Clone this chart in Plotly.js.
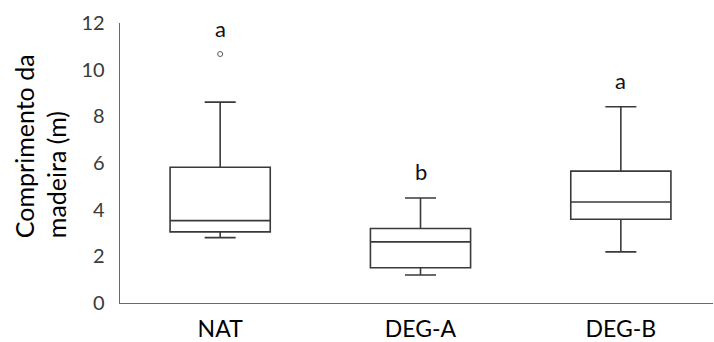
<!DOCTYPE html>
<html>
<head>
<meta charset="utf-8">
<script src="https://cdn.plot.ly/plotly-3.0.1.min.js"></script>
<style>
  html, body { margin: 0; padding: 0; background: #ffffff; }
  #chart { width: 714px; height: 342px; }
</style>
</head>
<body>
<div id="chart"></div>
<script>
// Wood length by site type: five-number summaries per group
const categories = ["NAT", "DEG-A", "DEG-B"];
const lowerFence = [2.80, 1.20, 2.19];
const q1 = [3.05, 1.51, 3.59];
const median = [3.53, 2.62, 4.33];
const q3 = [5.82, 3.19, 5.65];
const upperFence = [8.61, 4.50, 8.41];

// Points beyond the whiskers
const outlierCategory = ["NAT"];
const outlierValue = [10.67];

// Significance letters and the height they sit at
const letters = ["a", "b", "a"];
const letterHeight = [11.78, 5.62, 9.55];

const FONT = "Lato, 'Open Sans', sans-serif";

const boxes = {
  type: "box",
  x: categories,
  q1: q1,
  median: median,
  q3: q3,
  lowerfence: lowerFence,
  upperfence: upperFence,
  boxpoints: false,
  width: 0.5,
  whiskerwidth: 0.31,
  fillcolor: "rgba(255,255,255,0)",
  line: { color: "#3a3a3a", width: 1.6 },
  hoverinfo: "skip",
  showlegend: false
};

const outliers = {
  type: "scatter",
  mode: "markers",
  x: outlierCategory,
  y: outlierValue,
  marker: { symbol: "circle-open", size: 5, color: "#595959", line: { width: 1, color: "#595959" } },
  hoverinfo: "skip",
  showlegend: false
};

const annotations = categories.map((c, i) => ({
  x: c,
  y: letterHeight[i],
  xref: "x",
  yref: "y",
  text: letters[i],
  showarrow: false,
  xanchor: "center",
  yanchor: "middle",
  font: { family: FONT, size: 22, color: "#111111" }
}));

// Two-line axis title, start-aligned along the axis
annotations.push({
  xref: "paper",
  yref: "paper",
  x: -0.135,
  y: 0.56,
  xanchor: "center",
  yanchor: "middle",
  textangle: -90,
  align: "left",
  showarrow: false,
  text: "Comprimento da<br>madeira (m)",
  font: { family: FONT, size: 25, color: "#000000" }
});

const layout = {
  width: 714,
  height: 342,
  margin: { l: 120, r: 1, t: 23, b: 39.3, pad: 0 },
  paper_bgcolor: "#ffffff",
  plot_bgcolor: "#ffffff",
  xaxis: {
    type: "category",
    range: [-0.5, 2.46],
    showgrid: false,
    zeroline: false,
    showline: true,
    linecolor: "#6a6a6a",
    linewidth: 1.3,
    ticks: "",
    ticklabelstandoff: 5,
    tickfont: { family: FONT, size: 23, color: "#000000" }
  },
  yaxis: {
    range: [0, 12],
    tickvals: [0, 2, 4, 6, 8, 10, 12],
    ticktext: ["0", "2", "4", "6", "8", "10", "12"],
    showgrid: false,
    zeroline: false,
    showline: true,
    linecolor: "#6a6a6a",
    linewidth: 1.3,
    ticks: "",
    ticklabelstandoff: 10,
    tickfont: { family: FONT, size: 20, color: "#3a3a3a" }
  },
  annotations: annotations,
  showlegend: false
};

Plotly.newPlot("chart", [boxes, outliers], layout, { staticPlot: true, displayModeBar: false });
</script>
</body>
</html>
